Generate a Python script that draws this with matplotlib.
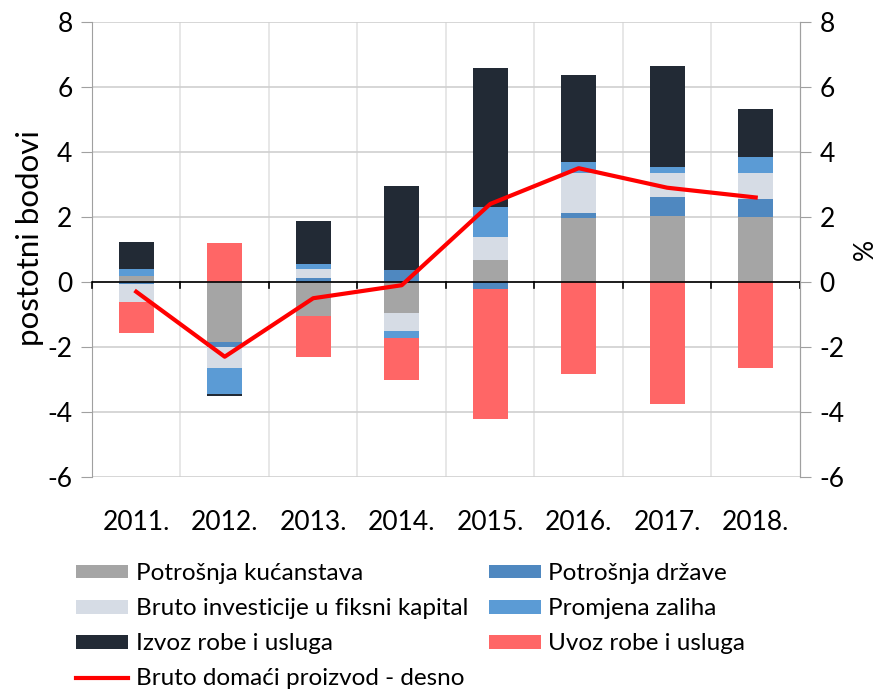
import numpy as np
import matplotlib
matplotlib.use('Agg')
import matplotlib.pyplot as plt
from matplotlib.patches import Patch
from matplotlib.lines import Line2D

plt.rcParams['font.family'] = ['Lato', 'DejaVu Sans']
plt.rcParams['axes.unicode_minus'] = False

# data (postotni bodovi)
years = ['2011.', '2012.', '2013.', '2014.', '2015.', '2016.', '2017.', '2018.']
kucanstva = [0.19, -1.84, -1.05, -0.95, 0.67, 1.98, 2.03, 2.00]
drzava = [-0.07, -0.16, 0.12, 0.36, -0.22, 0.14, 0.57, 0.54]
investicije = [-0.56, -0.66, 0.29, -0.57, 0.71, 1.24, 0.74, 0.80]
zalihe = [0.20, -0.80, 0.14, -0.19, 0.94, 0.32, 0.19, 0.52]
izvoz = [0.85, -0.04, 1.32, 2.59, 4.27, 2.68, 3.10, 1.45]
uvoz = [-0.95, 1.19, -1.26, -1.31, -4.00, -2.84, -3.74, -2.66]
bdp = [-0.3, -2.3, -0.5, -0.1, 2.4, 3.5, 2.9, 2.6]

series = [
    ('Potrošnja kućanstava', kucanstva, '#a5a5a5'),
    ('Potrošnja države', drzava, '#4f88c0'),
    ('Bruto investicije u fiksni kapital', investicije, '#d6dce5'),
    ('Promjena zaliha', zalihe, '#5b9bd5'),
    ('Izvoz robe i usluga', izvoz, '#222a35'),
    ('Uvoz robe i usluga', uvoz, '#ff6666'),
]

fig = plt.figure(figsize=(8.81, 6.95), dpi=100)
ax = fig.add_axes([0.1044, 0.3137, 0.8036, 0.6547])
x = np.arange(len(years))
w = 0.4

pos = np.zeros(len(years))
neg = np.zeros(len(years))
handles = {}
for name, vals, col in series:
    v = np.array(vals)
    base = np.where(v >= 0, pos, neg)
    ax.bar(x, v, w, bottom=base, color=col, edgecolor='none', zorder=3)
    pos = pos + np.clip(v, 0, None)
    neg = neg + np.clip(v, None, 0)
    handles[name] = Patch(facecolor=col, label=name)

ax.set_xlim(-0.5, 7.5)
ax.set_ylim(-6, 8)
ax.set_yticks(np.arange(-6, 9, 2))
ax.grid(axis='y', color='#d0d0d0', lw=1.2, zorder=0)
for b in np.arange(0.5, 7, 1):
    ax.axvline(b, color='#e3e3e3', lw=1.2, zorder=0)
ax.axhline(0, color='black', lw=1.2, zorder=4)
for b in np.arange(-0.5, 8, 1):
    ax.plot([b, b], [0, -0.18], color='black', lw=1.2, zorder=4, clip_on=False)

for s in ['top', 'bottom']:
    ax.spines[s].set_visible(False)
for s in ['left', 'right']:
    ax.spines[s].set_color('#a0a0a0')
ax.set_xticks(x)
ax.set_xticklabels(years, fontsize=19)
ax.tick_params(axis='x', length=0, pad=24)
ax.tick_params(axis='y', labelsize=19, length=8, color='#a0a0a0', pad=6)
ax.set_ylabel('postotni bodovi', fontsize=22.5)
ax.yaxis.set_label_coords(-0.068, 0.525)

ax2 = ax.twinx()
ax2.set_ylim(-6, 8)
ax2.set_yticks(np.arange(-6, 9, 2))
ax2.tick_params(axis='y', labelsize=19, length=8, color='#a0a0a0', pad=6)
for s in ['top', 'bottom', 'left']:
    ax2.spines[s].set_visible(False)
ax2.spines['right'].set_color('#a0a0a0')
ax2.plot(x, bdp, color='#ff0000', lw=3, zorder=5)
ax2.set_ylabel('%', fontsize=19, labelpad=6)

line_h = Line2D([], [], color='#ff0000', lw=3, label='Bruto domaći proizvod - desno')
order = [handles['Potrošnja kućanstava'], handles['Bruto investicije u fiksni kapital'],
         handles['Izvoz robe i usluga'], line_h,
         handles['Potrošnja države'], handles['Promjena zaliha'], handles['Uvoz robe i usluga']]
fig.legend(handles=order, loc='lower left', bbox_to_anchor=(0.0863, 0.008), ncol=2,
           frameon=False, fontsize=17.5, handlelength=2.15, handleheight=0.5,
           handletextpad=0.3, columnspacing=0.85, labelspacing=0.58,
           borderpad=0, borderaxespad=0)

fig.savefig('out.png', dpi=100)
